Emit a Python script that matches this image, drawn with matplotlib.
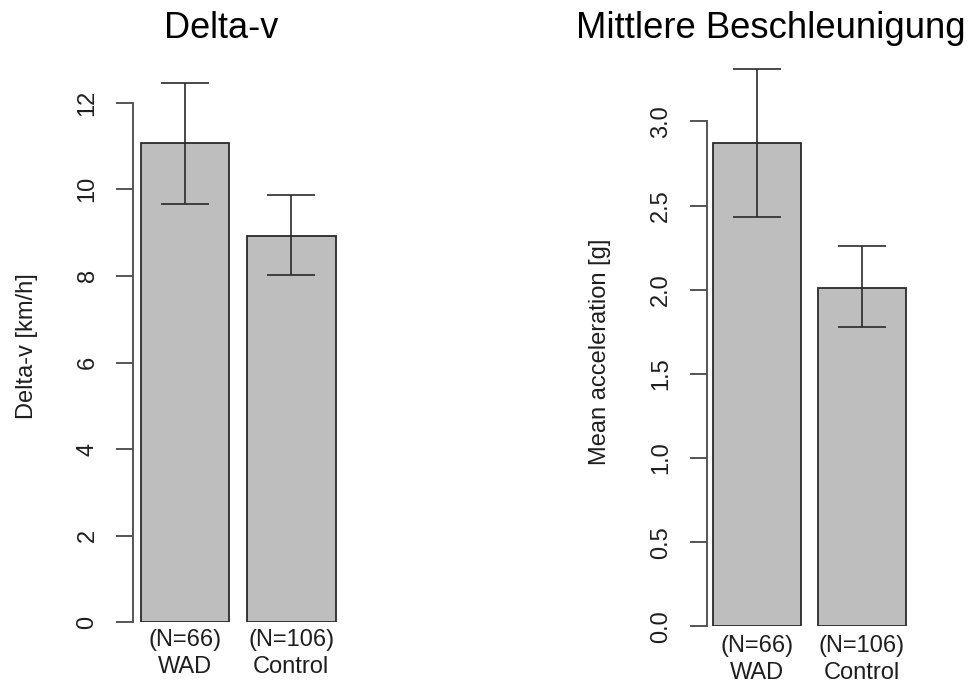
import matplotlib
matplotlib.use("Agg")
import matplotlib.pyplot as plt
import numpy as np

plt.rcParams['font.family'] = ['Liberation Sans', 'DejaVu Sans']

# ---- data ----
groups = ["WAD", "Control"]
n_labels = ["(N=66)", "(N=106)"]

delta_v = [11.06, 8.92]
delta_v_lo = [9.65, 8.02]
delta_v_hi = [12.46, 9.87]
delta_v_ticks = [0, 2, 4, 6, 8, 10, 12]

acc = [2.87, 2.01]
acc_lo = [2.43, 1.78]
acc_hi = [3.31, 2.26]
acc_ticks = [0.0, 0.5, 1.0, 1.5, 2.0, 2.5, 3.0]
acc_ticklabels = ["0.0", "0.5", "1.0", "1.5", "2.0", "2.5", "3.0"]

W, H = 973, 684
DPI = 100
fig = plt.figure(figsize=(W / DPI, H / DPI), dpi=DPI)

TXT = '#1e1e1e'
EDGE = '#2a2a2a'
FILL = '#bebebe'
SMALL = 17


def px_axes(left, right, bottom, top):
    return fig.add_axes([left / W, 1 - bottom / H, (right - left) / W, (bottom - top) / H])


def panel(ax, vals, lo, hi, ticks, ticklabels, xlim, ylim, xpad):
    x = 0.7 + 1.2 * np.arange(len(vals))
    ax.bar(x, vals, width=1.0, color=FILL, edgecolor=EDGE, linewidth=1.3, zorder=2)
    vals = np.array(vals)
    yerr = np.vstack([vals - np.array(lo), np.array(hi) - vals])
    ax.errorbar(x, vals, yerr=yerr, fmt='none', ecolor=EDGE, elinewidth=1.2,
                capsize=17.3, capthick=1.2, zorder=3)
    ax.set_xlim(*xlim)
    ax.set_ylim(*ylim)
    for s in ['top', 'right', 'bottom']:
        ax.spines[s].set_visible(False)
    ax.spines['left'].set_bounds(ticks[0], ticks[-1])
    ax.spines['left'].set_color('#555555')
    ax.spines['left'].set_linewidth(1.4)
    ax.set_yticks(ticks)
    ax.set_yticklabels(ticklabels, rotation=90, va='center')
    ax.tick_params(axis='y', length=12, width=1.4, color='#555555', pad=13,
                   labelsize=SMALL, labelcolor=TXT)
    ax.set_xticks(x)
    ax.set_xticklabels([f"{n}\n{g}" for n, g in zip(n_labels, groups)],
                       linespacing=1.3)
    ax.tick_params(axis='x', length=0, pad=xpad, labelsize=SMALL, labelcolor=TXT)
    ax.patch.set_alpha(0)


ax1 = px_axes(133.3, 353.3, 622.3, 622.3 - 13 * 43.3)
panel(ax1, delta_v, delta_v_lo, delta_v_hi, delta_v_ticks,
      [str(t) for t in delta_v_ticks], (0.1165, 2.6), (0, 13), 4.5)

ax2 = px_axes(706.7, 923.3, 626.3, 626.3 - 3.4 * 168.3)
panel(ax2, acc, acc_lo, acc_hi, acc_ticks, acc_ticklabels, (0.1246, 2.6), (0, 3.4), 6)

fig.text(27 / W, 1 - 346 / H, "Delta-v [km/h]", rotation=90, ha='center', va='center',
         fontsize=SMALL, color=TXT)
fig.text(600 / W, 1 - 352 / H, "Mean acceleration [g]", rotation=90, ha='center',
         va='center', fontsize=SMALL, color=TXT)

fig.text(221.5 / W, 1 - 38.5 / H, "Delta-v", ha='center', va='baseline', fontsize=26,
         color='black')
fig.text(771 / W, 1 - 37.5 / H, "Mittlere Beschleunigung", ha='center', va='baseline',
         fontsize=26.3, color='black')

fig.savefig("out.png", dpi=DPI)
